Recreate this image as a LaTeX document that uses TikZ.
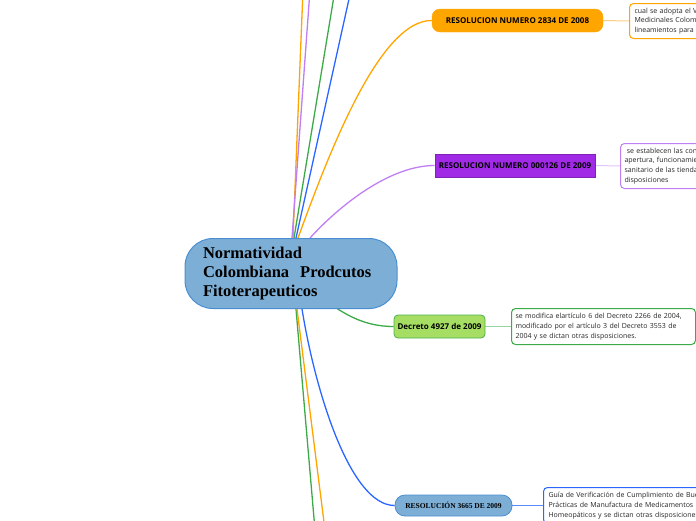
\documentclass[tikz,border=0pt]{standalone}
\usepackage{fontspec}
\setmainfont{Open Sans}
\newfontfamily\titlefont{Liberation Serif}
\usetikzlibrary{calc}
\pgfdeclarelayer{background}
\pgfsetlayers{background,main}
\definecolor{orangeM}{HTML}{FFA500}
\definecolor{orangeL}{HTML}{FFCC88}
\definecolor{purpleF}{HTML}{A12AE6}
\definecolor{purpleB}{HTML}{7E22B8}
\definecolor{purpleM}{HTML}{BF7EF2}
\definecolor{purpleL}{HTML}{E2C4F8}
\definecolor{greenM}{HTML}{3DAA4A}
\definecolor{greenF}{HTML}{A6DD63}
\definecolor{greenB}{HTML}{4DB04F}
\definecolor{greenL}{HTML}{96D4A0}
\definecolor{blueM}{HTML}{2A66FF}
\definecolor{blueF}{HTML}{7DAFD6}
\definecolor{blueB}{HTML}{4A8ED2}
\definecolor{blueL}{HTML}{5A8AFF}
\begin{document}
\begin{tikzpicture}[x=1pt,y=-1pt,
  branch/.style={line width=1.3pt},
  twig/.style={line width=1pt},
  lbl/.style={minimum height=23pt, inner sep=0pt, font=\bfseries\fontsize{8}{9}\selectfont, text=black},
  leaf/.style={draw, line width=1pt, rounded corners=4pt, fill=white, anchor=north west,
     align=left, inner xsep=5pt, inner ysep=2pt, font=\fontsize{7}{9.7}\selectfont, text=black!85}]
\useasboundingbox (0,0) rectangle (696,520);
\clip (0,0) rectangle (696,520);

% central node
\node[draw=blueB, fill=blueF, line width=1pt, rounded corners=28pt,
      minimum width=212pt, minimum height=70pt, text width=176pt, align=left, inner xsep=18pt,
      font=\titlefont\bfseries\fontsize{16.5}{19}\selectfont] (c) at (291,273.5)
  {Normatividad\\Colombiana\ \ Prodcutos\\Fitoterapeuticos};

% labels
\node[lbl, draw=orangeM, fill=orangeM, rounded corners=8pt, minimum width=171pt] (r2834) at (517.5,20.5)
  {RESOLUCION NUMERO 2834 DE 2008};
\node[lbl, draw=purpleB, fill=purpleF, line width=0.8pt, minimum width=160pt] (r126) at (515,165.5)
  {RESOLUCION NUMERO 000126 DE 2009};
\node[lbl, draw=greenB, fill=greenF, line width=0.8pt, rounded corners=4pt, minimum width=91pt] (d4927) at (439.5,326.5)
  {Decreto 4927 de 2009};
\node[lbl, draw=blueB, fill=blueF, line width=0.8pt, rounded corners=10pt, minimum width=117pt, minimum height=21pt,
      font=\titlefont\bfseries\fontsize{7.5}{9}\selectfont] (r3665) at (453.5,505.5)
  {RESOLUCIÓN 3665 DE 2009};

% leaves
\node[leaf, draw=orangeM, minimum height=35pt, text width=170pt] (t2834) at (629,3)
  {cual se adopta el Vademécum de Plantas\\Medicinales Colombianas y se establecen\\lineamientos para su actualización};
\node[leaf, draw=purpleM, minimum height=45pt, text width=170pt, inner xsep=4pt] (t126) at (620,143)
  {\ se establecen las condiciones y los requisitos\\apertura, funcionamiento, vigilancia y control\\sanitario de las tiendas naturistas y se dictan otras\\disposiciones};
\node[leaf, draw=greenM, minimum height=36pt, text width=176pt, inner xsep=4pt] (t4927) at (511,308)
  {se modifica elartículo 6 del Decreto 2266 de 2004,\\modificado por el artículo 3 del Decreto 3553 de\\2004 y se dictan otras disposiciones.};
\node[leaf, draw=blueM, minimum height=36pt, text width=200pt] (t3665) at (543,487)
  {Guía de Verificación de Cumplimiento de Buenas\\Prácticas de Manufactura de Medicamentos\\Homeopáticos y se dictan otras disposiciones};

% free ends
\coordinate (eO1) at (303,-10);
\coordinate (eP1) at (310,-10);
\coordinate (eG1) at (335,-10);
\coordinate (eB1) at (351,-10);
\coordinate (eG2) at (315,530);
\coordinate (eO2) at (325,530);

\begin{pgfonlayer}{background}
  \draw[branch, orangeM] ($(c.north)+(2,0)$) -- (eO1);
  \draw[branch, purpleM] ($(c.north)+(1,0)$) -- (eP1);
  \draw[branch, greenM] ($(c.north)+(3,0)$) -- (eG1);
  \draw[branch, blueM] ($(c.north)+(5,0)$) -- (eB1);
  \draw[branch, orangeM] ($(c.north)+(7,0)$) .. controls (330,150) and (380,20) .. (r2834.west);
  \draw[branch, purpleM] ($(c.north)+(19,0)$) .. controls (340,205) and (390,165.5) .. (r126.west);
  \draw[branch, greenM] ($(c.south)+(5,0)$) -- (eG2);
  \draw[branch, orangeM] ($(c.south)+(6,0)$) -- (eO2);
  \draw[branch, blueM] ($(c.south)+(11,0)$) .. controls (315,390) and (350,505.5) .. (r3665.west);
  \draw[branch, greenM] (325,300) .. controls (345,315) and (365,326.5) .. (d4927.west);
  \draw[twig, orangeL] (r2834.east) -- (t2834.west);
  \draw[twig, purpleL] (r126.east) -- (t126.west);
  \draw[twig, greenL] (d4927.east) -- (t4927.west);
  \draw[twig, blueL] (r3665.east) -- (t3665.west);
\end{pgfonlayer}
\end{tikzpicture}
\end{document}
